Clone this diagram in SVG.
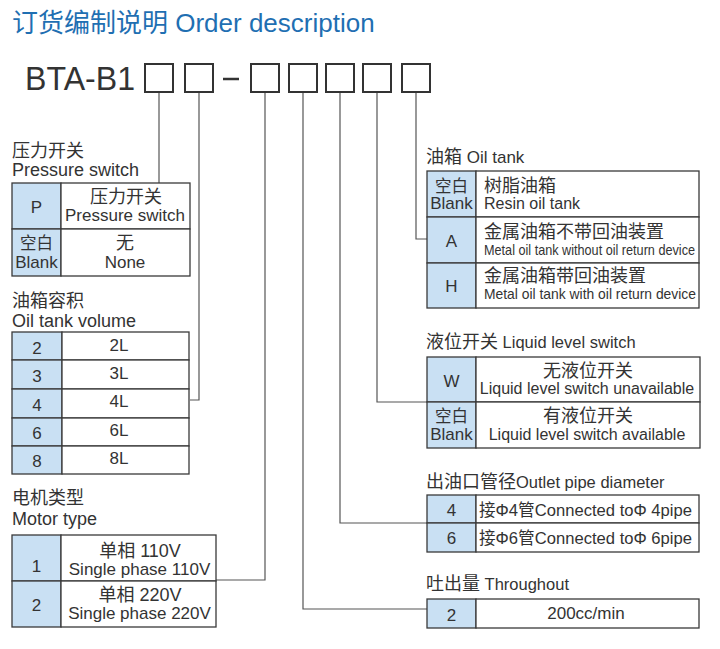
<svg xmlns="http://www.w3.org/2000/svg" width="720" height="649" viewBox="0 0 720 649">
<style>
text{font-family:"Liberation Sans","Noto Sans CJK SC",sans-serif;fill:#333}
.title{fill:#1f6fb2;font-size:26px}
.lbl{font-size:18px}
.zh{font-size:18px}
.en{font-size:17px}
.en16{font-size:16px}
.m{text-anchor:middle}
.cell{fill:#fff;stroke:#3a3a3a;stroke-width:1.3}
.key{fill:#c9e0f3;stroke:#3a3a3a;stroke-width:1.3}
.box{fill:#fff;stroke:#333;stroke-width:2}
.conn{fill:none;stroke:#555;stroke-width:1.2}
</style>
<rect width="720" height="649" fill="#fff"/>
<g id="title"><text class="title" x="12" y="32">订货编制说明 Order description</text></g>
<g id="code">
<text x="25" y="90" font-size="33" textLength="110" lengthAdjust="spacingAndGlyphs">BTA-B1</text>
<rect class="box" x="145" y="64" width="28" height="28"/>
<rect class="box" x="185" y="64" width="28" height="28"/>
<line x1="223" y1="79" x2="239" y2="79" stroke="#333" stroke-width="2.5"/>
<rect class="box" x="251" y="64" width="28" height="28"/>
<rect class="box" x="289" y="64" width="28" height="28"/>
<rect class="box" x="326" y="64" width="28" height="28"/>
<rect class="box" x="363" y="64" width="28" height="28"/>
<rect class="box" x="402" y="64" width="28" height="28"/>
</g>
<g id="connectors">
<path class="conn" d="M159 93V183"/>
<path class="conn" d="M199 93V400H190"/>
<path class="conn" d="M265 93V580H216"/>
<path class="conn" d="M303 93V609H427"/>
<path class="conn" d="M340 93V523H427"/>
<path class="conn" d="M377 93V402H427"/>
<path class="conn" d="M416 93V239H427"/>
</g>
<g id="pressure-switch">
<text class="lbl" x="12" y="157">压力开关</text>
<text class="lbl" x="12" y="176">Pressure switch</text>
<rect class="key" x="12" y="183" width="49" height="46"/>
<rect class="cell" x="61" y="183" width="129" height="46"/>
<rect class="key" x="12" y="229" width="49" height="47"/>
<rect class="cell" x="61" y="229" width="129" height="47"/>
<text class="en m" x="36.5" y="213">P</text>
<text class="zh m" x="126" y="203">压力开关</text>
<text class="en m" x="125" y="221">Pressure switch</text>
<text class="m" x="36.5" y="249" font-size="16.5">空白</text>
<text class="en m" x="36.5" y="268">Blank</text>
<text class="zh m" x="125" y="249">无</text>
<text class="en m" x="125" y="268">None</text>
</g>
<g id="oil-tank-volume">
<text class="lbl" x="12" y="307">油箱容积</text>
<text class="lbl" x="12" y="327">Oil tank volume</text>
<rect class="key" x="12" y="332" width="50" height="28"/>
<rect class="cell" x="62" y="332" width="127" height="28"/>
<rect class="key" x="12" y="360" width="50" height="29"/>
<rect class="cell" x="62" y="360" width="127" height="29"/>
<rect class="key" x="12" y="389" width="50" height="29"/>
<rect class="cell" x="62" y="389" width="127" height="29"/>
<rect class="key" x="12" y="418" width="50" height="28"/>
<rect class="cell" x="62" y="418" width="127" height="28"/>
<rect class="key" x="12" y="446" width="50" height="28"/>
<rect class="cell" x="62" y="446" width="127" height="28"/>
<text class="en m" x="37" y="354">2</text><text class="en m" x="119" y="351">2L</text>
<text class="en m" x="37" y="382">3</text><text class="en m" x="119" y="379">3L</text>
<text class="en m" x="37" y="411">4</text><text class="en m" x="119" y="407">4L</text>
<text class="en m" x="37" y="439">6</text><text class="en m" x="119" y="436">6L</text>
<text class="en m" x="37" y="467">8</text><text class="en m" x="119" y="464">8L</text>
</g>
<g id="motor-type">
<text class="lbl" x="12" y="504">电机类型</text>
<text class="lbl" x="12" y="525">Motor type</text>
<rect class="key" x="12" y="535" width="49" height="46"/>
<rect class="cell" x="61" y="535" width="155" height="46"/>
<rect class="key" x="12" y="581" width="49" height="46"/>
<rect class="cell" x="61" y="581" width="155" height="46"/>
<text class="en m" x="36.5" y="572">1</text>
<text class="zh m" x="140" y="557">单相 110V</text>
<text class="en m" x="139.5" y="575">Single phase 110V</text>
<text class="en m" x="36.5" y="611">2</text>
<text class="zh m" x="140" y="601">单相 220V</text>
<text class="en m" x="139.5" y="619">Single phase 220V</text>
</g>
<g id="oil-tank">
<text x="426" y="163"><tspan class="zh">油箱</tspan><tspan class="en"> Oil tank</tspan></text>
<rect class="key" x="427" y="171" width="49" height="46"/>
<rect class="cell" x="476" y="171" width="223" height="46"/>
<rect class="key" x="427" y="217" width="49" height="46"/>
<rect class="cell" x="476" y="217" width="223" height="46"/>
<rect class="key" x="427" y="263" width="49" height="45"/>
<rect class="cell" x="476" y="263" width="223" height="45"/>
<text class="m" x="451.5" y="192" font-size="16.5">空白</text>
<text class="en m" x="451.5" y="209">Blank</text>
<text class="zh" x="484" y="192">树脂油箱</text>
<text class="en16" x="484" y="209">Resin oil tank</text>
<text class="en m" x="451.5" y="247">A</text>
<text class="zh" x="484" y="238">金属油箱不带回油装置</text>
<text x="484" y="255" font-size="14.5" textLength="211" lengthAdjust="spacingAndGlyphs">Metal oil tank without oil return device</text>
<text class="en m" x="451.5" y="292">H</text>
<text class="zh" x="484" y="282">金属油箱带回油装置</text>
<text x="484" y="299" font-size="14.5" textLength="212" lengthAdjust="spacingAndGlyphs">Metal oil tank with oil return device</text>
</g>
<g id="liquid-level-switch">
<text x="426" y="348"><tspan class="zh">液位开关</tspan><tspan font-size="16.5"> Liquid level switch</tspan></text>
<rect class="key" x="427" y="357" width="49" height="45"/>
<rect class="cell" x="476" y="357" width="224" height="45"/>
<rect class="key" x="427" y="402" width="49" height="46"/>
<rect class="cell" x="476" y="402" width="224" height="46"/>
<text class="en m" x="451.5" y="387">W</text>
<text class="zh m" x="588" y="377">无液位开关</text>
<text class="en16 m" x="587" y="394">Liquid level switch unavailable</text>
<text class="m" x="451.5" y="422" font-size="16.5">空白</text>
<text class="en m" x="451.5" y="440">Blank</text>
<text class="zh m" x="588" y="422">有液位开关</text>
<text class="en16 m" x="587" y="440">Liquid level switch available</text>
</g>
<g id="outlet-pipe-diameter">
<text x="426" y="488"><tspan class="zh">出油口管径</tspan><tspan font-size="16.5">Outlet pipe diameter</tspan></text>
<rect class="key" x="427" y="495" width="49" height="28"/>
<rect class="cell" x="476" y="495" width="223" height="28"/>
<rect class="key" x="427" y="523" width="49" height="29"/>
<rect class="cell" x="476" y="523" width="223" height="29"/>
<text class="en m" x="451.5" y="516">4</text>
<text x="479" y="516" font-size="17" textLength="213" lengthAdjust="spacingAndGlyphs">接Φ4管Connected toΦ 4pipe</text>
<text class="en m" x="451.5" y="544">6</text>
<text x="479" y="544" font-size="17" textLength="213" lengthAdjust="spacingAndGlyphs">接Φ6管Connected toΦ 6pipe</text>
</g>
<g id="throughout">
<text x="426" y="590"><tspan class="zh">吐出量</tspan><tspan font-size="16.5"> Throughout</tspan></text>
<rect class="key" x="427" y="599" width="49" height="29"/>
<rect class="cell" x="476" y="599" width="223" height="29"/>
<text class="en m" x="451.5" y="621">2</text>
<text class="en m" x="586" y="619">200cc/min</text>
</g>
</svg>
